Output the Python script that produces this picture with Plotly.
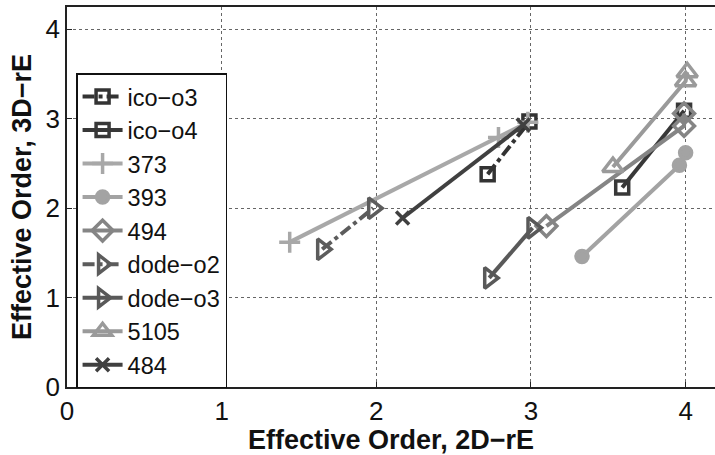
import plotly.graph_objects as go

# Effective order measured in 2D (x) vs 3D (y) for each scheme
names = ["ico\u2212o3", "ico\u2212o4", "373", "393", "494",
         "dode\u2212o2", "dode\u2212o3", "5105", "484"]

x_ico_o3 = [2.72, 2.99]
y_ico_o3 = [2.38, 2.97]
x_ico_o4 = [3.59, 3.99]
y_ico_o4 = [2.23, 3.09]
x_373 = [1.44, 2.79, 2.98]
y_373 = [1.62, 2.79, 2.96]
x_393 = [3.33, 3.96, 4.00]
y_393 = [1.46, 2.48, 2.62]
x_494 = [3.10, 3.99, 3.99]
y_494 = [1.80, 2.92, 3.06]
x_dode_o2 = [1.65, 1.98]
y_dode_o2 = [1.54, 2.00]
x_dode_o3 = [2.73, 3.01]
y_dode_o3 = [1.22, 1.78]
x_5105 = [3.53, 4.00, 4.01]
y_5105 = [2.46, 3.42, 3.52]
x_484 = [2.17, 2.95]
y_484 = [1.89, 2.93]

xs = [x_ico_o3, x_ico_o4, x_373, x_393, x_494, x_dode_o2, x_dode_o3, x_5105, x_484]
ys = [y_ico_o3, y_ico_o4, y_373, y_393, y_494, y_dode_o2, y_dode_o3, y_5105, y_484]

styles = [
    dict(color="#333333", dash="dashdot", symbol="square-open", size=13),
    dict(color="#383838", dash="solid", symbol="square-open", size=13),
    dict(color="#a8a8a8", dash="solid", symbol="cross-thin-open", size=15),
    dict(color="#a3a3a3", dash="solid", symbol="circle", size=12),
    dict(color="#858585", dash="solid", symbol="diamond-open", size=16),
    dict(color="#5c5c5c", dash="dashdot", symbol="triangle-right-open", size=18),
    dict(color="#595959", dash="solid", symbol="triangle-right-open", size=18),
    dict(color="#9a9a9a", dash="solid", symbol="triangle-up-open", size=18),
    dict(color="#404040", dash="solid", symbol="x-thin-open", size=13),
]

FONT = "Liberation Sans, Arial, Helvetica, sans-serif"

fig = go.Figure()
for name, x, y, s in zip(names, xs, ys, styles):
    fig.add_trace(go.Scatter(
        x=x, y=y, name=name, mode="lines+markers",
        line=dict(color=s["color"], width=4, dash=s["dash"]),
        marker=dict(symbol=s["symbol"], size=s["size"], color=s["color"],
                    line=dict(color=s["color"], width=3.5)),
    ))

axis_common = dict(
    showgrid=True, gridcolor="#666666", griddash="dot", gridwidth=1,
    zeroline=False, showline=True, linecolor="#222222", linewidth=1.5,
    ticks="inside", ticklen=5, tickcolor="#222222",
    tickfont=dict(family=FONT, size=26, color="#111111"),
)

fig.update_xaxes(
    range=[0, 4.19], tickvals=[0, 1, 2, 3, 4], mirror=True,
    title=dict(text="<b>Effective Order, 2D\u2212rE</b>", standoff=0,
               font=dict(family=FONT, size=27, color="#111111")),
    **axis_common,
)
fig.update_yaxes(
    range=[0, 4.25], tickvals=[0, 1, 2, 3, 4],
    title=dict(text="<b>Effective Order, 3D\u2212rE</b>", standoff=6,
               font=dict(family=FONT, size=27, color="#111111")),
    **axis_common,
)

fig.update_layout(
    width=715, height=455,
    margin=dict(l=67, r=0, t=7, b=68),
    plot_bgcolor="white", paper_bgcolor="white",
    legend=dict(
        x=0.014, y=0.826, xanchor="left", yanchor="top",
        bgcolor="white", bordercolor="#111111", borderwidth=1.5,
        font=dict(family=FONT, size=23.5, color="#111111"),
        itemwidth=40, tracegroupgap=0,
    ),
    showlegend=True,
)

fig.write_html("out.html")
